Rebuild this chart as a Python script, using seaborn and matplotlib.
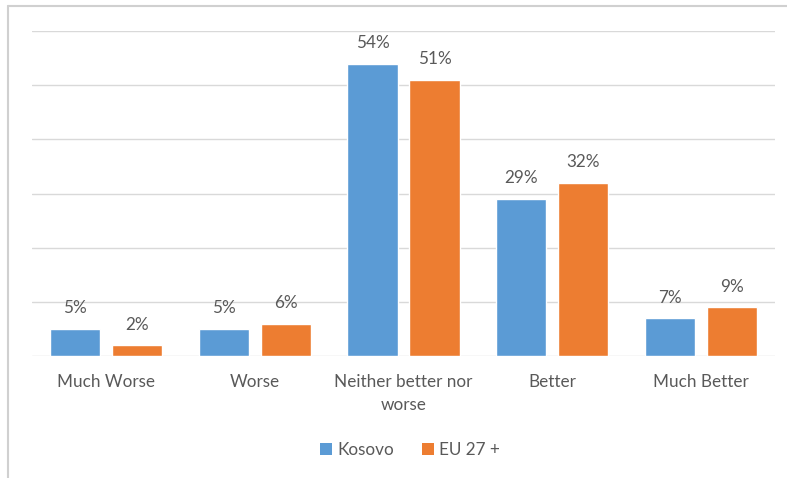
import matplotlib
matplotlib.use("Agg")
import matplotlib.pyplot as plt
from matplotlib.lines import Line2D
from matplotlib.patches import Patch
import seaborn as sns
import pandas as pd

categories = ["Much Worse", "Worse", "Neither better nor\nworse", "Better", "Much Better"]
kosovo = [5, 5, 54, 29, 7]
eu27 = [2, 6, 51, 32, 9]
series_names = ["Kosovo", "EU 27 +"]
colors = ["#5B9BD5", "#ED7D31"]
text_color = "#595959"
grid_color = "#D9D9D9"

df = pd.DataFrame({
    "category": categories * 2,
    "value": kosovo + eu27,
    "series": [series_names[0]] * len(categories) + [series_names[1]] * len(categories),
})

sns.set_theme(style="white")
plt.rcParams["font.family"] = ["Lato", "DejaVu Sans"]

W, H = 787, 478
fig = plt.figure(figsize=(W / 100, H / 100), dpi=100)
ax = fig.add_axes([32 / W, 1 - 356 / H, (775 - 32) / W, (356 - 31) / H])

sns.barplot(data=df, x="category", y="value", hue="series", palette=colors,
            width=0.834, gap=0.19, saturation=1, ax=ax, legend=False)

ax.set_ylim(0, 60)
ax.set_xlim(-0.5, len(categories) - 0.5)
ax.set_yticks(range(0, 61, 10))
ax.set_yticklabels([])
ax.tick_params(axis="y", length=0)
ax.tick_params(axis="x", length=0, pad=13, labelsize=12.3, labelcolor=text_color)
for lbl in ax.get_xticklabels():
    lbl.set_linespacing(1.55)
ax.set_xlabel("")
ax.set_ylabel("")
for y in range(0, 61, 10):
    ax.axhline(y, color=grid_color, lw=1.0, zorder=0)
for s in ax.spines.values():
    s.set_visible(False)

for cont in ax.containers:
    ax.bar_label(cont, labels=[f"{v:.0f}%" for v in cont.datavalues],
                 padding=9, fontsize=12.3, color=text_color)

handles = [Patch(facecolor=c, edgecolor="none") for c in colors]
fig.legend(handles, series_names, loc="center", bbox_to_anchor=(410 / W, 1 - 450 / H),
           ncol=2, frameon=False, fontsize=12.3, labelcolor=text_color,
           handlelength=0.7, handleheight=0.7, handletextpad=0.3, columnspacing=1.6)

# outer frame along top and left edges
fig.add_artist(Line2D([8 / W, 1], [1 - 6 / H, 1 - 6 / H], color="#D0D0D0", lw=1.5,
                      transform=fig.transFigure))
fig.add_artist(Line2D([8 / W, 8 / W], [0, 1 - 6 / H], color="#D0D0D0", lw=1.5,
                      transform=fig.transFigure))

fig.savefig("out.png", dpi=100, facecolor="white")
